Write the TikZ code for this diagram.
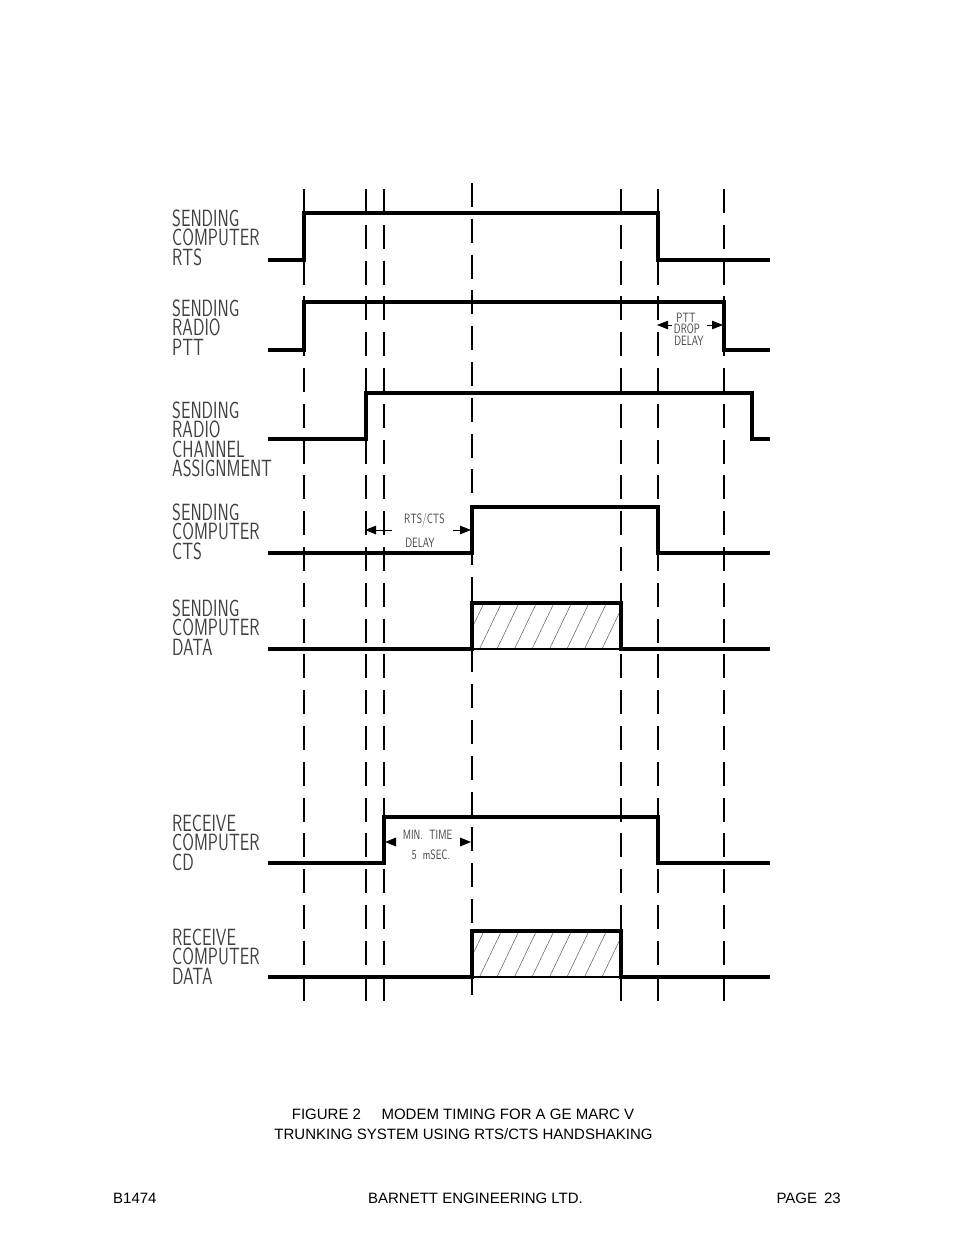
\documentclass[tikz,border=0pt]{standalone}
\usepackage{fontspec}
\usetikzlibrary{arrows.meta}
\setmainfont{Liberation Sans}
\newfontfamily\cadfont[FakeStretch=0.72]{Latin Modern Sans}
\begin{document}
\begin{tikzpicture}[x=1pt,y=-1pt,
  sig/.style={line width=3.2pt, line join=miter},
  thinbase/.style={line width=1.2pt},
  guide/.style={line width=1.4pt, dash pattern=on 23.9pt off 11.9pt},
  lbl/.style={anchor=base west, inner sep=0pt, text height=16.5pt, text depth=0pt, font=\cadfont\fontsize{23.5}{23.5}\selectfont, text=black!75},
  ann/.style={anchor=base, inner sep=0pt, text height=9.5pt, text depth=0pt, font=\cadfont\fontsize{13.5}{13.5}\selectfont, text=black!75},
  foot/.style={inner sep=0pt, font=\fontsize{15}{15}\selectfont},
  hatchline/.style={line width=0.5pt, black!65},
  tri/.style={-{Triangle[length=11pt,width=8.5pt]}, line width=0.8pt}
]
\useasboundingbox (0,0) rectangle (954,1235);

% guide lines
\foreach \x in {304,366,384,621,658,724} \draw[guide] (\x,189) -- (\x,1002);
\draw[guide] (472,183) -- (472,997);

% labels
\foreach \t [count=\i] in {SENDING,COMPUTER,RTS}
  \node[lbl] (ga\i) at (172,{226.5+19.3*(\i-1)}) {\t};
\foreach \t [count=\i] in {SENDING,RADIO,PTT}
  \node[lbl] (gb\i) at (172,{316.5+19.3*(\i-1)}) {\t};
\foreach \t [count=\i] in {SENDING,RADIO,CHANNEL,ASSIGNMENT}
  \node[lbl] (gc\i) at (172,{418.5+19.3*(\i-1)}) {\t};
\foreach \t [count=\i] in {SENDING,COMPUTER,CTS}
  \node[lbl] (gd\i) at (172,{520.5+19.3*(\i-1)}) {\t};
\foreach \t [count=\i] in {SENDING,COMPUTER,DATA}
  \node[lbl] (ge\i) at (172,{616.5+19.3*(\i-1)}) {\t};
\foreach \t [count=\i] in {RECEIVE,COMPUTER,CD}
  \node[lbl] (gf\i) at (172,{831.5+19.3*(\i-1)}) {\t};
\foreach \t [count=\i] in {RECEIVE,COMPUTER,DATA}
  \node[lbl] (gg\i) at (172,{945.5+19.3*(\i-1)}) {\t};

% hatched data boxes
\foreach \top/\bot in {603/649, 931/977} {
  \begin{scope}
    \clip (472,\top) rectangle (621,\bot);
    \foreach \i in {0,...,10}
      \draw[hatchline] ({462+\i*17.5},\bot) -- ++(22,-46);
  \end{scope}
  \draw[thinbase] (472,\bot) -- (621,\bot);
  \draw[sig] (268,\bot) -- (472,\bot) -- (472,\top) -- (621,\top) -- (621,\bot) -- (770,\bot);
}

% signals
\draw[sig] (268,260) -- (304,260) -- (304,213) -- (658,213) -- (658,260) -- (770,260);
\draw[sig] (268,350) -- (304,350) -- (304,302) -- (724,302) -- (724,350) -- (770,350);
\draw[sig] (268,439) -- (366,439) -- (366,393) -- (752,393) -- (752,439) -- (770,439);
\draw[sig] (268,553) -- (472,553) -- (472,507) -- (658,507) -- (658,553) -- (770,553);
\draw[sig] (268,863) -- (384,863) -- (384,817) -- (658,817) -- (658,863) -- (770,863);

% PTT drop delay
\node[ann] (ptt1) at (686,322) {PTT};
\node[ann] (ptt2) at (687,333.5) {DROP};
\node[ann] (ptt3) at (689,345) {DELAY};
\coordinate (pa1) at (672,325); \coordinate (pa2) at (657,325);
\coordinate (pb1) at (707,325); \coordinate (pb2) at (723,325);
\draw[tri] (pa1) -- (pa2);
\draw[tri] (pb1) -- (pb2);

% RTS/CTS delay
\node[ann] (rc1) at (424.5,523) {RTS/CTS};
\node[ann] (rc2) at (420,547) {DELAY};
\coordinate (ra1) at (392,530); \coordinate (ra2) at (365,530);
\coordinate (rb1) at (453,530); \coordinate (rb2) at (471,530);
\draw[tri] (ra1) -- (ra2);
\draw[tri] (rb1) -- (rb2);

% min time
\node[ann] (mt1) at (427.5,839) {MIN.\ \ TIME};
\node[ann] (mt2) at (431,859) {5\ \ mSEC.};
\fill (385,842) -- (396,837.5) -- (396,846.5) -- cycle;
\fill (471,842) -- (460,837.5) -- (460,846.5) -- cycle;

% caption
\node[foot, anchor=base] (cap1) at (463,1119.5) {FIGURE 2\hspace{20.5pt}MODEM TIMING FOR A GE MARC V};
\node[foot, anchor=base] (cap2) at (463.5,1139.5) {TRUNKING SYSTEM USING RTS/CTS HANDSHAKING};
\node[foot, anchor=base west] (f1) at (113,1203.5) {B1474};
\node[foot, anchor=base] (f2) at (475.5,1203.5) {BARNETT ENGINEERING LTD.};
\node[foot, anchor=base east] (f3) at (841,1203.5) {PAGE\hspace{7pt}23};
\end{tikzpicture}
\end{document}
